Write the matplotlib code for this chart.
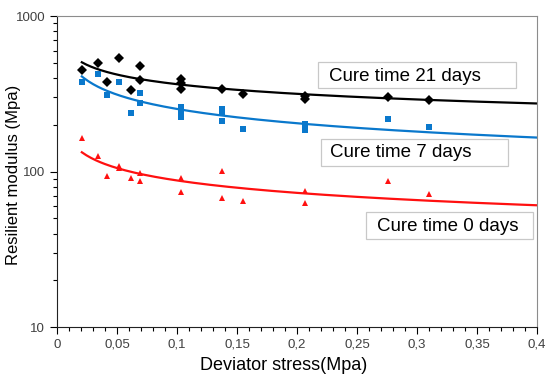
import numpy as np
import matplotlib.pyplot as plt
from matplotlib.patches import Rectangle
from matplotlib.ticker import MultipleLocator, FixedLocator, LogLocator, NullFormatter

plt.rcParams['font.family'] = ['Liberation Sans', 'DejaVu Sans']

# deviator stress (MPa) and resilient modulus (MPa) per cure time
x_21 = [0.0207, 0.0345, 0.0414, 0.0517, 0.062, 0.0689, 0.0689, 0.1034, 0.1034, 0.1034,
        0.1379, 0.1551, 0.2068, 0.2068, 0.2758, 0.3103]
y_21 = [451, 500, 378, 536, 334, 481, 388, 395, 372, 338,
        342, 318, 305, 295, 302, 290]

x_7 = [0.0207, 0.0345, 0.0414, 0.0517, 0.062, 0.0689, 0.0689, 0.1034, 0.1034, 0.1034,
       0.1379, 0.1379, 0.1379, 0.1551, 0.2068, 0.2068, 0.2068, 0.2758, 0.3103]
y_7 = [375, 424, 310, 380, 239, 319, 275, 262, 245, 224,
       252, 238, 211, 189, 202, 192, 184, 217, 193]

x_0 = [0.0207, 0.0345, 0.0414, 0.0517, 0.0517, 0.062, 0.0689, 0.0689, 0.1034, 0.1034,
       0.1379, 0.1379, 0.1551, 0.2068, 0.2068, 0.2758, 0.3103]
y_0 = [165, 126, 94, 109, 106, 91.5, 97.5, 87, 90.5, 74,
       101, 68, 64.5, 75, 63, 87, 72]

labels = ["Cure time 21 days", "Cure time 7 days", "Cure time 0 days"]

fig = plt.figure(figsize=(5.48, 3.76), dpi=100)
ax = fig.add_axes([0.104, 0.130, 0.876, 0.827])

series = [
    (x_21, y_21, "black", "D", 5.5),
    (x_7, y_7, "#0A78CC", "s", 4.0),
    (x_0, y_0, "#FF1010", "^", 4.5),
]

# power trend lines (Excel-style) fitted in log-log space
xt = np.linspace(0.0207, 0.4, 200)
for xs, ys, c, m, ms in series:
    ax.plot(xs, ys, linestyle="none", marker=m, color=c, markersize=ms,
            markeredgewidth=0, zorder=3)
    b, loga = np.polyfit(np.log(xs), np.log(ys), 1)
    ax.plot(xt, np.exp(loga) * xt ** b, color=c, linewidth=1.6, zorder=2)

ax.set_yscale("log")
ax.set_xlim(0, 0.4)
ax.set_ylim(10, 1000)

ax.xaxis.set_minor_locator(MultipleLocator(0.01))
ax.set_xticks(np.arange(0, 0.401, 0.05))
ax.set_xticklabels(["0", "0,05", "0,1", "0,15", "0,2", "0,25", "0,3", "0,35", "0,4"])
ax.yaxis.set_major_locator(FixedLocator([10, 100, 1000]))
ax.yaxis.set_minor_locator(LogLocator(base=10, subs=np.arange(2, 10)))
ax.yaxis.set_minor_formatter(NullFormatter())
ax.set_yticklabels(["10", "100", "1000"])

ax.tick_params(axis="both", which="major", labelsize=9.5, labelcolor="#404040",
               length=5, width=0.8, direction="out")
ax.tick_params(axis="both", which="minor", length=3, width=0.8, direction="out")

for s in ["top", "right"]:
    ax.spines[s].set_color("#8c8c8c")
for s in ["left", "bottom"]:
    ax.spines[s].set_color("#222222")

ax.set_xlabel("Deviator stress(Mpa)", fontsize=13)
ax.xaxis.set_label_coords(0.473, -0.095)
ax.set_ylabel("Resilient modulus (Mpa)", fontsize=12)
ax.yaxis.set_label_coords(-0.074, 0.49)

# annotation boxes (axes fraction): box x0, x1, y0, y1, text centre x, y
boxes = [
    (0.544, 0.956, 0.768, 0.852, 0.725, 0.806),
    (0.550, 0.940, 0.518, 0.605, 0.717, 0.560),
    (0.644, 0.992, 0.283, 0.370, 0.813, 0.322),
]
for lab, (x0, x1, y0, y1, tx, ty) in zip(labels, boxes):
    ax.add_patch(Rectangle((x0, y0), x1 - x0, y1 - y0, transform=ax.transAxes,
                           facecolor="white", edgecolor="#c8c8c8", linewidth=0.9,
                           zorder=4))
    ax.text(tx, ty, lab, transform=ax.transAxes, fontsize=13.5, ha="center",
            va="center", zorder=5)

fig.savefig("out.png", dpi=100)
